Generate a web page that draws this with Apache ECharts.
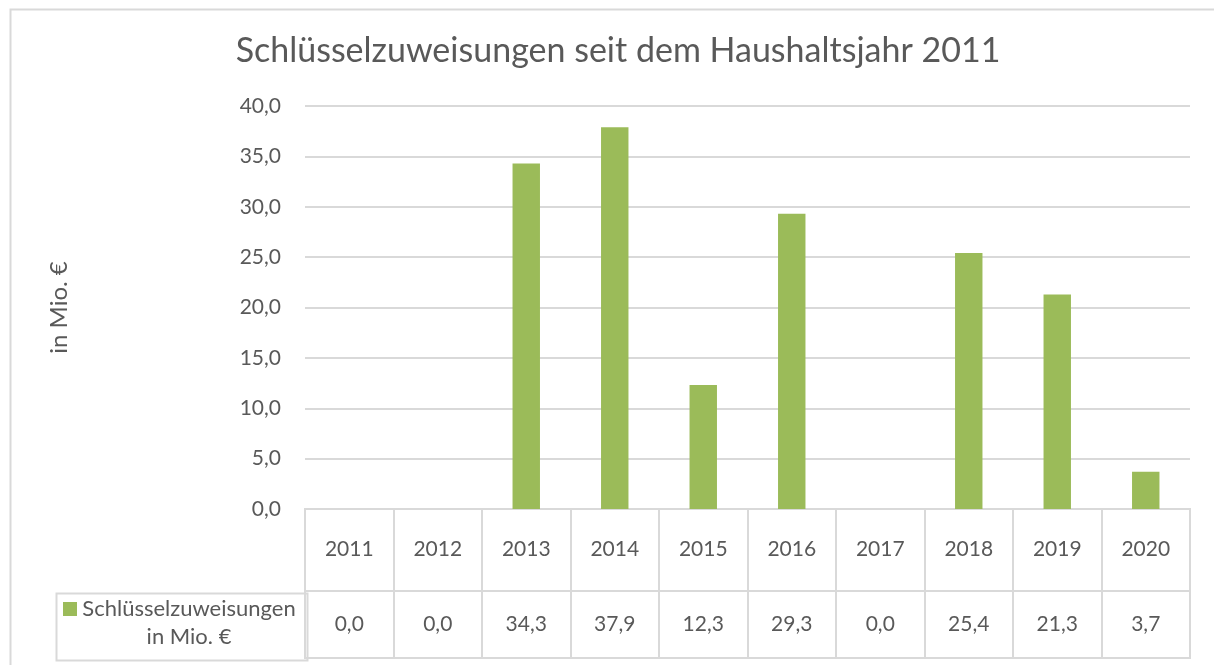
<!DOCTYPE html>
<html>
<head>
<meta charset="utf-8">
<script src="https://cdn.jsdelivr.net/npm/echarts@6/dist/echarts.min.js"></script>
<style>html,body{margin:0;padding:0;background:#fff;}#c{width:1214px;height:665px;}</style>
</head>
<body>
<div id="c"></div>
<script>
const title = 'Schlüsselzuweisungen seit dem Haushaltsjahr 2011';
const years = ['2011','2012','2013','2014','2015','2016','2017','2018','2019','2020'];
const values = [0.0, 0.0, 34.3, 37.9, 12.3, 29.3, 0.0, 25.4, 21.3, 3.7];
const seriesName = 'Schlüsselzuweisungen in Mio. €';
const legendLines = ['Schlüsselzuweisungen', 'in Mio. €'];
const yAxisName = 'in Mio. €';
const yMin = 0, yMax = 40, yStep = 5;

const fmt = v => v.toFixed(1).replace('.', ',');
const FONT = 'Lato';
const TXT = '#595959';
const LINE = '#d9d9d9';
const BAR = '#9BBB59';

const chart = echarts.init(document.getElementById('c'), null, {renderer: 'canvas'});
const tableAxis = (gi, data, margin) => ({
  type: 'category', gridIndex: gi, data: data, position: 'top',
  axisLine: {show: false}, axisTick: {show: false},
  axisLabel: {inside: true, margin: margin, verticalAlign: 'middle', interval: 0,
    color: TXT, fontFamily: FONT, fontSize: 21},
  splitLine: {show: true, interval: 0, lineStyle: {color: LINE, width: 2}}
});
const hiddenY = gi => ({type: 'value', gridIndex: gi, show: false});

chart.setOption({
  animation: false,
  backgroundColor: '#fff',
  title: {
    text: title, left: 613, top: 29, textAlign: 'center',
    textStyle: {fontFamily: FONT, fontWeight: 'normal', fontSize: 34, color: TXT}
  },
  grid: [
    {left: 305, right: 24, top: 106, height: 403},
    {left: 305, right: 24, top: 509, height: 82, show: true, borderColor: LINE, borderWidth: 2},
    {left: 305, right: 24, top: 591, height: 67, show: true, borderColor: LINE, borderWidth: 2}
  ],
  xAxis: [
    {type: 'category', gridIndex: 0, data: years, axisLine: {show: false}, axisTick: {show: false}, axisLabel: {show: false}},
    tableAxis(1, years, 40),
    tableAxis(2, values.map(fmt), 33)
  ],
  yAxis: [
    {type: 'value', gridIndex: 0, min: yMin, max: yMax, interval: yStep,
     name: yAxisName, nameLocation: 'middle', nameRotate: 90, nameGap: 234,
     nameTextStyle: {color: TXT, fontFamily: FONT, fontSize: 24},
     axisLine: {show: false}, axisTick: {show: false},
     axisLabel: {formatter: fmt, margin: 24, color: TXT, fontFamily: FONT, fontSize: 21},
     splitLine: {lineStyle: {color: LINE, width: 2}}},
    hiddenY(1), hiddenY(2)
  ],
  series: [{
    name: seriesName, type: 'bar', xAxisIndex: 0, yAxisIndex: 0,
    data: values, barWidth: '31%', itemStyle: {color: BAR}
  }],
  graphic: [
    {type: 'rect', left: 8, top: 7, shape: {width: 1220, height: 700}, style: {fill: 'none', stroke: LINE, lineWidth: 2}, silent: true},
    {type: 'rect', left: 54, top: 591, shape: {width: 251, height: 67}, style: {fill: 'none', stroke: LINE, lineWidth: 2}, silent: true},
    {type: 'rect', left: 63, top: 602, shape: {width: 14, height: 14}, style: {fill: BAR}, silent: true},
    {type: 'text', x: 189, y: 595, style: {text: legendLines.join('\n'), align: 'center', verticalAlign: 'top', lineHeight: 28, fill: TXT, font: '22px ' + FONT}, silent: true}
  ]
});
</script>
</body>
</html>
